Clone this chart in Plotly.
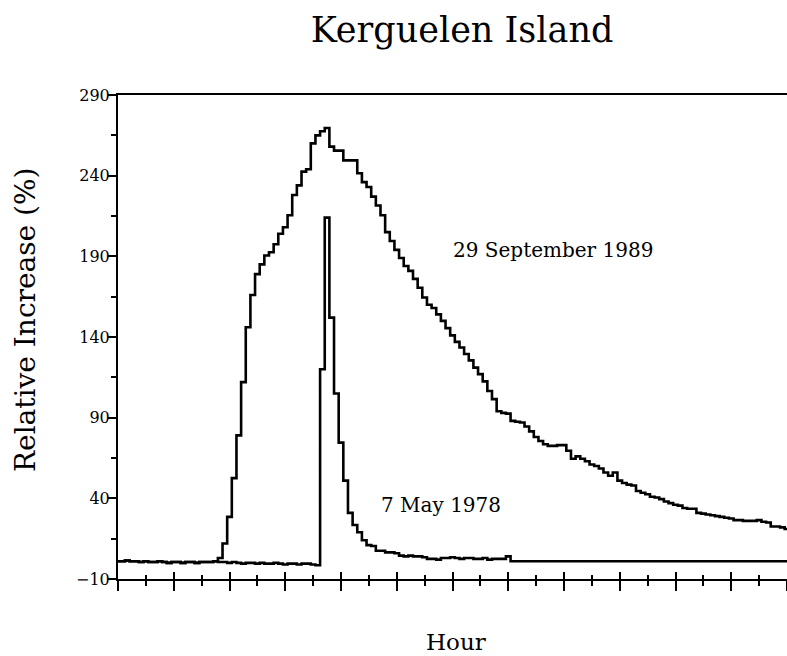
import plotly.graph_objects as go

# 5-minute step values (percent), step k starts at (k+0.5)/12 h (k=0 starts at 0 h)
sep_1989 = [1, 1.5, 1, 1, 0.5, 1, 0.5, 0.5, 1, 0.5, 0, 0.5, 0.5, 0, 0.5, 0.5, 0, 0.5, 0.5, 0.5, 1,
            3, 12, 28.5, 52.5, 79, 112, 146, 166, 179, 185, 190.5, 192.5, 197.5, 204, 208, 215.5,
            228, 234, 242.5, 244, 260, 265, 267.5, 269.5, 258, 255.5, 255.5, 249.5, 249.5, 249.5,
            241.5, 236, 233, 227, 221.5, 215.5, 205, 199.5, 194, 189, 184, 181, 176, 170.5, 164.5,
            160, 158, 154, 150, 145.5, 141, 137, 133.5, 129.5, 125.5, 121, 117, 112.5, 106.5, 101.5,
            94, 93, 92.5, 88, 87.5, 87, 84.5, 81.5, 78, 75.5, 73.5, 72.5, 72.5, 73, 73, 69.5, 64.5,
            66, 64.5, 63, 61, 60, 58.5, 56, 54, 56, 51, 49.5, 48.5, 48, 44.5, 43.5, 42.5, 41, 40.5,
            39.5, 38, 37, 36, 35.5, 34, 33.5, 33.5, 31, 30.5, 30, 29.5, 29, 28.5, 28, 27.5, 26.5,
            26.5, 26, 26, 26, 26.5, 25.5, 25, 22.5, 22.5, 22, 21]

may_1978 = [1, 1.5, 1, 1, 0.5, 1, 0.5, 0.5, 1, 0.5, 0, 0.5, 0.5, 0, 0.5, 0.5, 0, 0.5, 0.5, 0.5, 1,
            0.5, 0.5, 0, 0.5, 0, -0.5, 0, 0, -0.5, 0, -0.5, -0.5, 0, -0.5, -1, -0.5, -0.5, -1, -0.5,
            -0.5, -1, -1.5,
            120, 214, 152, 105, 74.5, 51, 31, 23.5, 19, 14, 11, 10.5, 7.5, 7.5, 6.5, 6.5, 6, 4.5, 4,
            4.5, 4, 4, 3.5, 2.5, 2.5, 2, 3, 3, 3.5, 3, 2.5, 3, 3, 2.5, 2.5, 3, 2, 2.5, 2.5, 2.5, 4,
            1]

y_ticks = [-10, 40, 90, 140, 190, 240, 290]
x_end_hour = 12


def step_times(n):
    return [0.0] + [(k + 0.5) / 12 for k in range(1, n)]


x89 = step_times(len(sep_1989)) + [x_end_hour]
y89 = sep_1989 + [sep_1989[-1]]
x78 = step_times(len(may_1978)) + [x_end_hour]
y78 = may_1978 + [may_1978[-1]]

SERIF = "DejaVu Serif"

fig = go.Figure()
fig.add_trace(go.Scatter(x=x89, y=y89, mode="lines", line=dict(shape="hv", color="black", width=2.6),
                         showlegend=False, hoverinfo="skip"))
fig.add_trace(go.Scatter(x=x78, y=y78, mode="lines", line=dict(shape="hv", color="black", width=2.6),
                         showlegend=False, hoverinfo="skip"))
# invisible trace to hold the overlay axis (inner half of the crossing ticks)
fig.add_trace(go.Scatter(x=[0, x_end_hour], y=[None, None], xaxis="x2", mode="lines",
                         showlegend=False, hoverinfo="skip"))

fig.update_layout(
    width=787, height=656,
    margin=dict(l=118, r=0, t=95, b=77),
    paper_bgcolor="white", plot_bgcolor="white",
    title=dict(text="Kerguelen Island", x=462 / 787, xanchor="center", y=1 - 30 / 656, yanchor="middle",
               font=dict(family=SERIF, size=35, color="black")),
    xaxis=dict(range=[0, x_end_hour], showgrid=False, zeroline=False, showticklabels=False,
               showline=True, linecolor="black", linewidth=2, mirror=True,
               ticks="outside", ticklen=10, tickwidth=1.5, tickcolor="black", dtick=1, tick0=0,
               minor=dict(dtick=0.5, ticks="outside", ticklen=5, tickwidth=1.5, tickcolor="black")),
    xaxis2=dict(range=[0, x_end_hour], overlaying="x", anchor="y", side="bottom", showgrid=False,
                zeroline=False, showticklabels=False, showline=False,
                ticks="inside", ticklen=7, tickwidth=1.5, tickcolor="black", dtick=1, tick0=0,
                minor=dict(dtick=0.5, ticks="inside", ticklen=4, tickwidth=1.5, tickcolor="black")),
    yaxis=dict(range=[-10, 290], showgrid=False, zeroline=False,
               showline=True, linecolor="black", linewidth=2, mirror=False,
               tickmode="array", tickvals=y_ticks,
               ticktext=[("\u2212" + str(-v)) if v < 0 else str(v) for v in y_ticks],
               ticks="outside", ticklen=8, tickwidth=1.5, tickcolor="black", ticklabelstandoff=-5,
               tickfont=dict(family=SERIF, size=16, color="black"),
               minor=dict(tickmode="linear", tick0=-10, dtick=25, ticks="outside", ticklen=5, tickwidth=1.5,
                          tickcolor="black")),
    annotations=[
        dict(text="29 September 1989", x=7.8, y=194, xref="x", yref="y", showarrow=False,
             xanchor="center", yanchor="middle",
             font=dict(family=SERIF, size=20, color="black")),
        dict(text="7 May 1978", x=5.79, y=36, xref="x", yref="y", showarrow=False,
             xanchor="center", yanchor="middle",
             font=dict(family=SERIF, size=20, color="black")),
        dict(text="Relative Increase (%)", x=(25 - 118) / 669, y=(579 - 320) / 484, xref="paper",
             yref="paper", showarrow=False, textangle=-90, xanchor="center", yanchor="middle",
             font=dict(family=SERIF, size=28, color="black")),
        dict(text="Hour", x=(456 - 118) / 669, y=(579 - 642) / 484, xref="paper", yref="paper",
             showarrow=False, xanchor="center", yanchor="middle",
             font=dict(family=SERIF, size=23, color="black")),
    ],
)

fig.write_html("out.html", config={"displayModeBar": False},
               post_script="document.body.style.margin='0';")
